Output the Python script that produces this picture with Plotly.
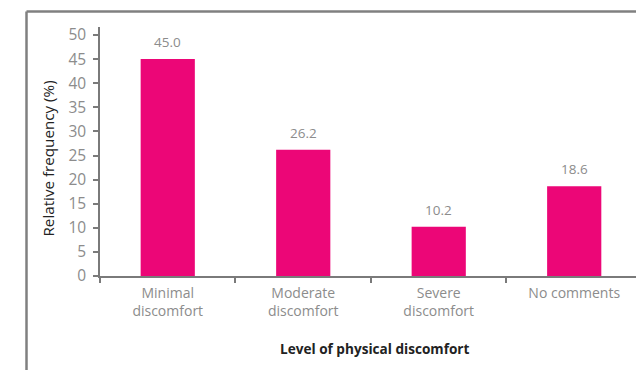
import plotly.graph_objects as go

categories = ["Minimal<br>discomfort", "Moderate<br>discomfort", "Severe<br>discomfort", "No comments"]
values = [45.0, 26.2, 10.2, 18.6]
y_ticks = [0, 5, 10, 15, 20, 25, 30, 35, 40, 45, 50]

BAR = "#ec0677"
AXIS = "#7a7a7a"
TICKTXT = "#8c8c8c"
FONT = "'Open Sans', Lato, sans-serif"

W, H = 636, 370
ML, MR, MT, MB = 100, 0, 27, 94
plot_w = W - ML - MR
plot_h = H - MT - MB


def px_x(p):
    return (p - ML) / plot_w


def px_y(p):
    return (H - MB - p) / plot_h


fig = go.Figure()
fig.add_trace(go.Bar(
    x=categories,
    y=values,
    width=0.4,
    marker=dict(color=BAR, line=dict(width=0)),
    hoverinfo="skip",
))

for c, v in zip(categories, values):
    fig.add_annotation(
        x=c, y=v, text=f"{v:.1f}", showarrow=False,
        yanchor="bottom", yshift=6,
        font=dict(family=FONT, size=13.5, color=TICKTXT),
    )

# axis titles
fig.add_annotation(
    xref="paper", yref="paper", x=px_x(375), y=px_y(348),
    xanchor="center", yanchor="middle", showarrow=False,
    text="<b>Level of physical discomfort</b>",
    font=dict(family=FONT, size=13.6, color="#222222"),
)
fig.add_annotation(
    xref="paper", yref="paper", x=px_x(47.5), y=px_y(159),
    xanchor="center", yanchor="middle", showarrow=False, textangle=-90,
    text="Relative frequency (%)",
    font=dict(family=FONT, size=15.2, color="#222222"),
)

# outer frame: only left and top edges fall inside the page
fx = px_x(26.5)
fy = px_y(11.5)
fig.add_shape(type="line", xref="paper", yref="paper", x0=fx, x1=1.2, y0=fy, y1=fy,
              line=dict(color="#808080", width=2.5))
fig.add_shape(type="line", xref="paper", yref="paper", x0=fx, x1=fx, y0=fy, y1=-0.6,
              line=dict(color="#808080", width=2.5))

fig.update_layout(
    width=W, height=H,
    margin=dict(l=ML, r=MR, t=MT, b=MB),
    paper_bgcolor="white", plot_bgcolor="white",
    showlegend=False,
    font=dict(family=FONT, size=13, color=TICKTXT),
    xaxis=dict(
        type="category",
        range=[-0.5, 3.456],
        tickson="boundaries",
        showline=True, linecolor=AXIS, linewidth=1.5,
        ticks="outside", ticklen=5, tickwidth=1.5, tickcolor=AXIS,
        showgrid=False, zeroline=False,
        ticklabelstandoff=3,
        tickfont=dict(family=FONT, size=14, color=TICKTXT),
    ),
    yaxis=dict(
        range=[0, plot_h / 4.82],
        tickmode="array", tickvals=y_ticks,
        showline=True, linecolor=AXIS, linewidth=1.5,
        ticks="outside", ticklen=5, tickwidth=1.5, tickcolor=AXIS,
        showgrid=False, zeroline=False,
        ticklabelstandoff=4,
        tickfont=dict(family=FONT, size=15.5, color=TICKTXT),
    ),
)

fig.write_html("out.html")
